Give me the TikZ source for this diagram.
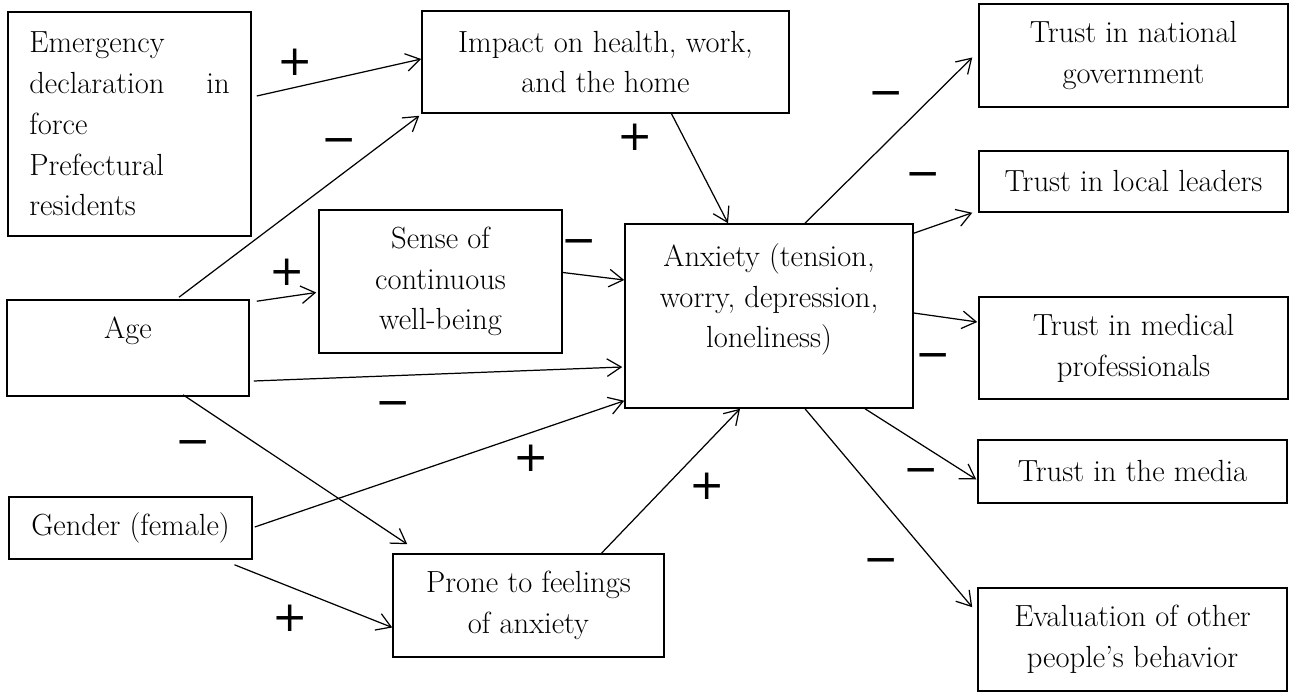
\documentclass[tikz,border=0pt]{standalone}
\usepackage{fontspec}
\usepackage{tikz}
\usetikzlibrary{
	arrows.meta,
	calc
}
\newfontfamily\signfont{DejaVu Sans}

\begin{document}
\begin{tikzpicture}[x=0.02cm, y=-0.02cm,
		box/.style={draw, line width=0.9pt, inner sep=0pt, align=center, font=\fontsize{17.4}{23.2}\selectfont},
		link/.style={-{Straight Barb[length=8pt, width=10pt]}, line width=0.7pt},
		sign/.style={inner sep=0pt, font=\signfont\fontsize{24}{24}\selectfont}]
			\useasboundingbox (0,0) rectangle (1290,692);
			% left column
			\node[box, align=left, text width=114pt, minimum width=4.86cm, minimum height=4.48cm] (emerg) at (129.5,124) {Emergency\\declaration\hfill in\\force\\Prefectural\\residents};
			\node[box, minimum width=4.84cm, minimum height=1.92cm] (age) at (128,348) {Age\\\mbox{}};
			\node[box, minimum width=4.86cm, minimum height=1.24cm] (gender) at (130.5,528) {Gender (female)};
			% middle
			\node[box, minimum width=7.34cm, minimum height=2.04cm] (impact) at (605.5,62) {Impact on health, work,\\and the home};
			\node[box, minimum width=4.86cm, minimum height=2.86cm] (sense) at (440.5,281.5) {Sense of\\continuous\\well-being};
			\node[box, minimum width=5.42cm, minimum height=2.06cm] (prone) at (528.5,605.5) {Prone to feelings\\of anxiety};
			\node[box, minimum width=5.76cm, minimum height=3.68cm] (anxiety) at (769,316) {Anxiety (tension,\\worry, depression,\\loneliness)\\\mbox{}};
			% right column
			\node[box, minimum width=6.18cm, minimum height=2.06cm] (national) at (1133.5,55.5) {Trust in national\\government};
			\node[box, minimum width=6.18cm, minimum height=1.22cm] (local) at (1133.5,181.5) {Trust in local leaders};
			\node[box, minimum width=6.18cm, minimum height=2.04cm] (medical) at (1133.5,348) {Trust in medical\\professionals};
			\node[box, minimum width=6.18cm, minimum height=1.26cm] (media) at (1132.5,471.5) {Trust in the media};
			\node[box, minimum width=6.18cm, minimum height=2.06cm] (eval) at (1132.5,639.5) {Evaluation of other\\people's behavior};
			% paths
			\draw[link] ($(emerg.east)+(5,-28)$) -- ($(impact.west)+(0,-3)$);
			\draw[link] ($(age.north)+(51,-2)$) -- ($(impact.south west)+(-2,2)$);
			\draw[link] ($(impact.south)+(66,0)$) -- ($(anxiety.north)+(-41,0)$);
			\draw[link] ($(age.north east)+(7,2)$) -- ($(sense.west)+(-2,11)$);
			\draw[link] ($(sense.east)+(0,-9)$) -- ($(anxiety.west)+(0,-36)$);
			\draw[link] ($(age.east)+(4,33)$) -- ($(anxiety.west)+(-2,51)$);
			\draw[link] ($(gender.east)+(2,-1)$) -- ($(anxiety.south west)+(0,-8)$);
			\draw[link] ($(age.south)+(55,-2)$) -- ($(prone.north west)+(15,-9)$);
			\draw[link] ($(gender.south)+(104,5)$) -- ($(prone.west)+(0,22)$);
			\draw[link] ($(prone.north)+(73,0)$) -- ($(anxiety.south)+(-29,0)$);
			\draw[link] ($(anxiety.north)+(36,0)$) -- ($(national.west)+(-6,2)$);
			\draw[link] ($(anxiety.north east)+(0,10)$) -- ($(local.south west)+(-6,0)$);
			\draw[link] ($(anxiety.east)+(0,-3)$) -- ($(medical.west)+(-1,-26)$);
			\draw[link] ($(anxiety.south)+(96,0)$) -- ($(media.west)+(-1,8)$);
			\draw[link] ($(anxiety.south)+(36,0)$) -- ($(eval.north west)+(-5,20)$);
			% signs
			\node[sign] (sEmergImpact) at (295,62) {+};
			\node[sign] (sAgeImpact) at (339,146) {−};
			\node[sign] (sImpactAnx) at (635,137) {+};
			\node[sign] (sAgeSense) at (287,272) {+};
			\node[sign] (sSenseAnx) at (579,247) {−};
			\node[sign] (sAgeAnx) at (393,409) {−};
			\node[sign] (sAgeProne) at (193,448) {−};
			\node[sign] (sGenderAnx) at (531,458) {+};
			\node[sign] (sProneAnx) at (707,486) {+};
			\node[sign] (sGenderProne) at (290,618) {+};
			\node[sign] (sAnxNational) at (886,99) {−};
			\node[sign] (sAnxLocal) at (923,180) {−};
			\node[sign] (sAnxMedical) at (933,361) {−};
			\node[sign] (sAnxMedia) at (921,476) {−};
			\node[sign] (sAnxEval) at (881,566) {−};
		\end{tikzpicture}
\end{document}
